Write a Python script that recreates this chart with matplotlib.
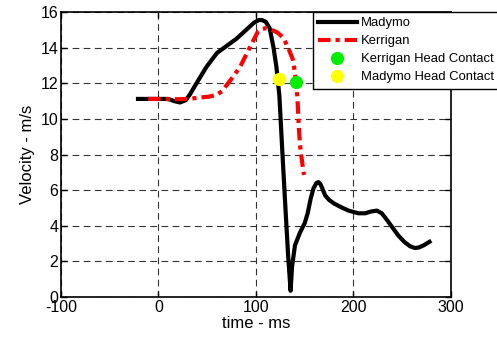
import numpy as np
import matplotlib.pyplot as plt

plt.rcParams['font.family'] = ['Liberation Sans', 'DejaVu Sans']
plt.rcParams['axes.unicode_minus'] = False

# ── Data ─────────────────────────────────────────────────────────────────────
madymo_t = [-21, 0, 10, 16, 22, 28, 32, 39, 49, 60, 70, 80, 90, 98, 103, 106,
            110, 114, 118, 121, 124, 127, 130, 133, 135.5, 137, 140, 145, 150,
            153, 156, 159, 162, 164, 166, 168, 171, 175, 180, 187, 195, 205,
            212, 218, 224, 229, 234, 240, 246, 252, 258, 263, 267, 272, 278]
madymo_v = [11.12, 11.12, 11.12, 11.0, 10.92, 11.05, 11.35, 12.0, 12.9, 13.7,
            14.1, 14.5, 15.0, 15.4, 15.55, 15.55, 15.45, 15.1, 14.0, 12.9,
            11.3, 8.2, 5.2, 2.3, 0.35, 1.7, 2.9, 3.6, 4.15, 4.7, 5.5, 6.1,
            6.4, 6.45, 6.35, 6.1, 5.7, 5.45, 5.25, 5.05, 4.85, 4.7, 4.7, 4.8,
            4.85, 4.7, 4.35, 3.9, 3.45, 3.1, 2.85, 2.75, 2.78, 2.9, 3.1]

kerrigan_t = [-10.5, 0, 15, 30, 43, 52, 60, 65, 70, 77, 84, 94, 102, 107, 111,
              116, 122, 128, 133, 138, 141, 142.5, 143.5, 145, 147, 149.2]
kerrigan_v = [11.12, 11.12, 11.1, 11.12, 11.2, 11.25, 11.35, 11.55, 11.9, 12.4,
              12.95, 14.05, 14.9, 15.05, 15.1, 15.0, 14.85, 14.55, 14.0, 13.3,
              12.2, 11.2, 10.0, 8.6, 7.7, 6.85]

kerrigan_contact = (140.7, 12.06)
madymo_contact = (123.3, 12.23)

# ── Plot ─────────────────────────────────────────────────────────────────────
fig = plt.figure(figsize=(4.97, 3.43), dpi=100)
ax = fig.add_axes([0.1227, 0.1341, 0.7847, 0.8309])

ax.plot(madymo_t, madymo_v, color="black", linewidth=3.0, label="Madymo",
        solid_joinstyle="round", zorder=3)
ax.plot(kerrigan_t, kerrigan_v, color="red", linewidth=3.0,
        linestyle=(0, (3, 1.2, 1, 1.2)), label="Kerrigan", zorder=4)
ax.plot(*kerrigan_contact, "o", color="#00ee00", markersize=8.5, linestyle="none",
        label="Kerrigan Head Contact", zorder=5)
ax.plot(*madymo_contact, "o", color="#ffff00", markersize=8.5, linestyle="none",
        label="Madymo Head Contact", zorder=5)

ax.set_xlim(-100, 300)
ax.set_ylim(0, 16)
ax.set_xticks([-100, 0, 100, 200, 300])
ax.set_yticks(np.arange(0, 17, 2))
ax.tick_params(direction="in", top=True, right=True, labelsize=11.5, length=4,
               width=1, pad=2)
for s in ax.spines.values():
    s.set_linewidth(1.2)
ax.grid(True, color="#333333", linestyle=(0, (6, 4)), linewidth=0.8)
ax.set_axisbelow(True)

ax.set_xlabel("time - ms", fontsize=12, labelpad=1)
ax.set_ylabel("Velocity - m/s", fontsize=12, labelpad=4)

leg = ax.legend(loc="upper left", bbox_to_anchor=(0.645, 1.0), fontsize=9.4,
                frameon=True, fancybox=False, framealpha=1, edgecolor="black",
                handlelength=3.0, borderpad=0.4, labelspacing=0.45,
                handletextpad=0.3, borderaxespad=0)
leg.get_frame().set_linewidth(1.0)

plt.savefig("out.png", dpi=100)
